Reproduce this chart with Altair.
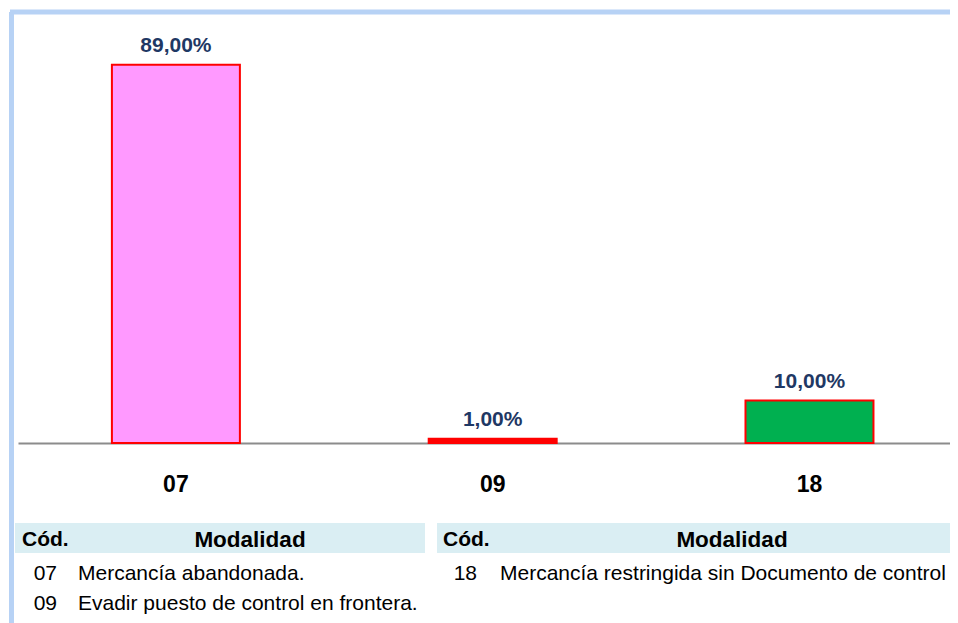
import altair as alt
import pandas as pd

# ---- data ----
codes = ["07", "09", "18"]
values = [89.0, 1.0, 10.0]
labels = ["89,00%", "1,00%", "10,00%"]
fills = ["#FF99FF", "#FF0000", "#00B050"]

left_codes = ["07", "09"]
left_desc = ["Mercancía abandonada.", "Evadir puesto de control en frontera."]
right_codes = ["18"]
right_desc = ["Mercancía restringida sin Documento de control"]

header_code = "Cód."
header_desc = "Modalidad"

FONT = "Liberation Sans, Arial, sans-serif"
W, H = 932, 425

df = pd.DataFrame({"code": codes, "value": values, "label": labels, "fill": fills})

xscale = alt.Scale(paddingInner=0.596, paddingOuter=0.269, align=0.551)
yscale = alt.Scale(domain=[0, 100])

base = alt.Chart(df)

bars = base.mark_bar(stroke="#FF0000", strokeWidth=2).encode(
    x=alt.X("code:N", scale=xscale, sort=codes,
            axis=alt.Axis(title=None, labelAngle=0, ticks=False, tickSize=0,
                          domainColor="#8C8C8C", domainWidth=2,
                          labelFont=FONT, labelFontSize=23, labelFontWeight="bold",
                          labelColor="#000000", labelPadding=30, grid=False)),
    y=alt.Y("value:Q", scale=yscale, axis=None),
    fill=alt.Fill("fill:N", scale=None),
)

vals = base.mark_text(font=FONT, fontSize=21, fontWeight="bold", color="#1F3864",
                      baseline="bottom", dy=-9).encode(
    x=alt.X("code:N", scale=xscale, sort=codes),
    y=alt.Y("value:Q", scale=yscale),
    text="label:N",
)

one = pd.DataFrame({"a": [0]})

# frame (light blue border of the picture)
frame_left = alt.Chart(one).mark_rule(color="#B7D2F5", strokeWidth=5).encode(
    x=alt.value(-6.5), y=alt.value(-6), y2=alt.value(H + 200))
frame_top = alt.Chart(one).mark_rule(color="#B7D2F5", strokeWidth=5).encode(
    x=alt.value(-8), x2=alt.value(W + 20), y=alt.value(-6))

# header bands
hdr_left = alt.Chart(one).mark_rect(color="#DAEEF3").encode(
    x=alt.value(-3), x2=alt.value(407), y=alt.value(505), y2=alt.value(535))
hdr_right = alt.Chart(one).mark_rect(color="#DAEEF3").encode(
    x=alt.value(419), x2=alt.value(W), y=alt.value(505), y2=alt.value(535))

hdr_df = pd.DataFrame({"t": [header_code]})
hdr_df2 = pd.DataFrame({"t": [header_desc]})

def htext(d, x, align, size):
    return alt.Chart(d).mark_text(font=FONT, fontSize=size, fontWeight="bold", color="#000000",
                                  align=align, baseline="middle").encode(
        x=alt.value(x), y=alt.value(522), text="t:N")

h1 = htext(hdr_df, 4, "left", 21)
h2 = htext(hdr_df2, 232, "center", 22.5)
h3 = htext(hdr_df, 425, "left", 21)
h4 = htext(hdr_df2, 714, "center", 22.5)

def rowtext(lst, x, y, align):
    d = pd.DataFrame({"t": lst})
    return alt.Chart(d).mark_text(font=FONT, fontSize=21, color="#000000",
                                  align=align, baseline="middle").encode(
        x=alt.value(x), y=alt.value(y), text="t:N")

rows = []
for i, (c, t) in enumerate(zip(left_codes, left_desc)):
    rows.append(rowtext([c], 39, 556 + 30 * i, "right"))
    rows.append(rowtext([t], 60, 556 + 30 * i, "left"))
for i, (c, t) in enumerate(zip(right_codes, right_desc)):
    rows.append(rowtext([c], 459, 556 + 30 * i, "right"))
    rows.append(rowtext([t], 482, 556 + 30 * i, "left"))

chart = alt.layer(frame_left, frame_top, hdr_left, hdr_right, bars, vals,
                  h1, h2, h3, h4, *rows).properties(
    width=W, height=H,
    autosize=alt.AutoSizeParams(type="none"),
    padding={"left": 10, "top": 10, "right": 0, "bottom": 180},
    background="#FFFFFF",
).configure_view(stroke=None)

chart.save("out.html", embed_options={"renderer": "svg", "actions": False})
